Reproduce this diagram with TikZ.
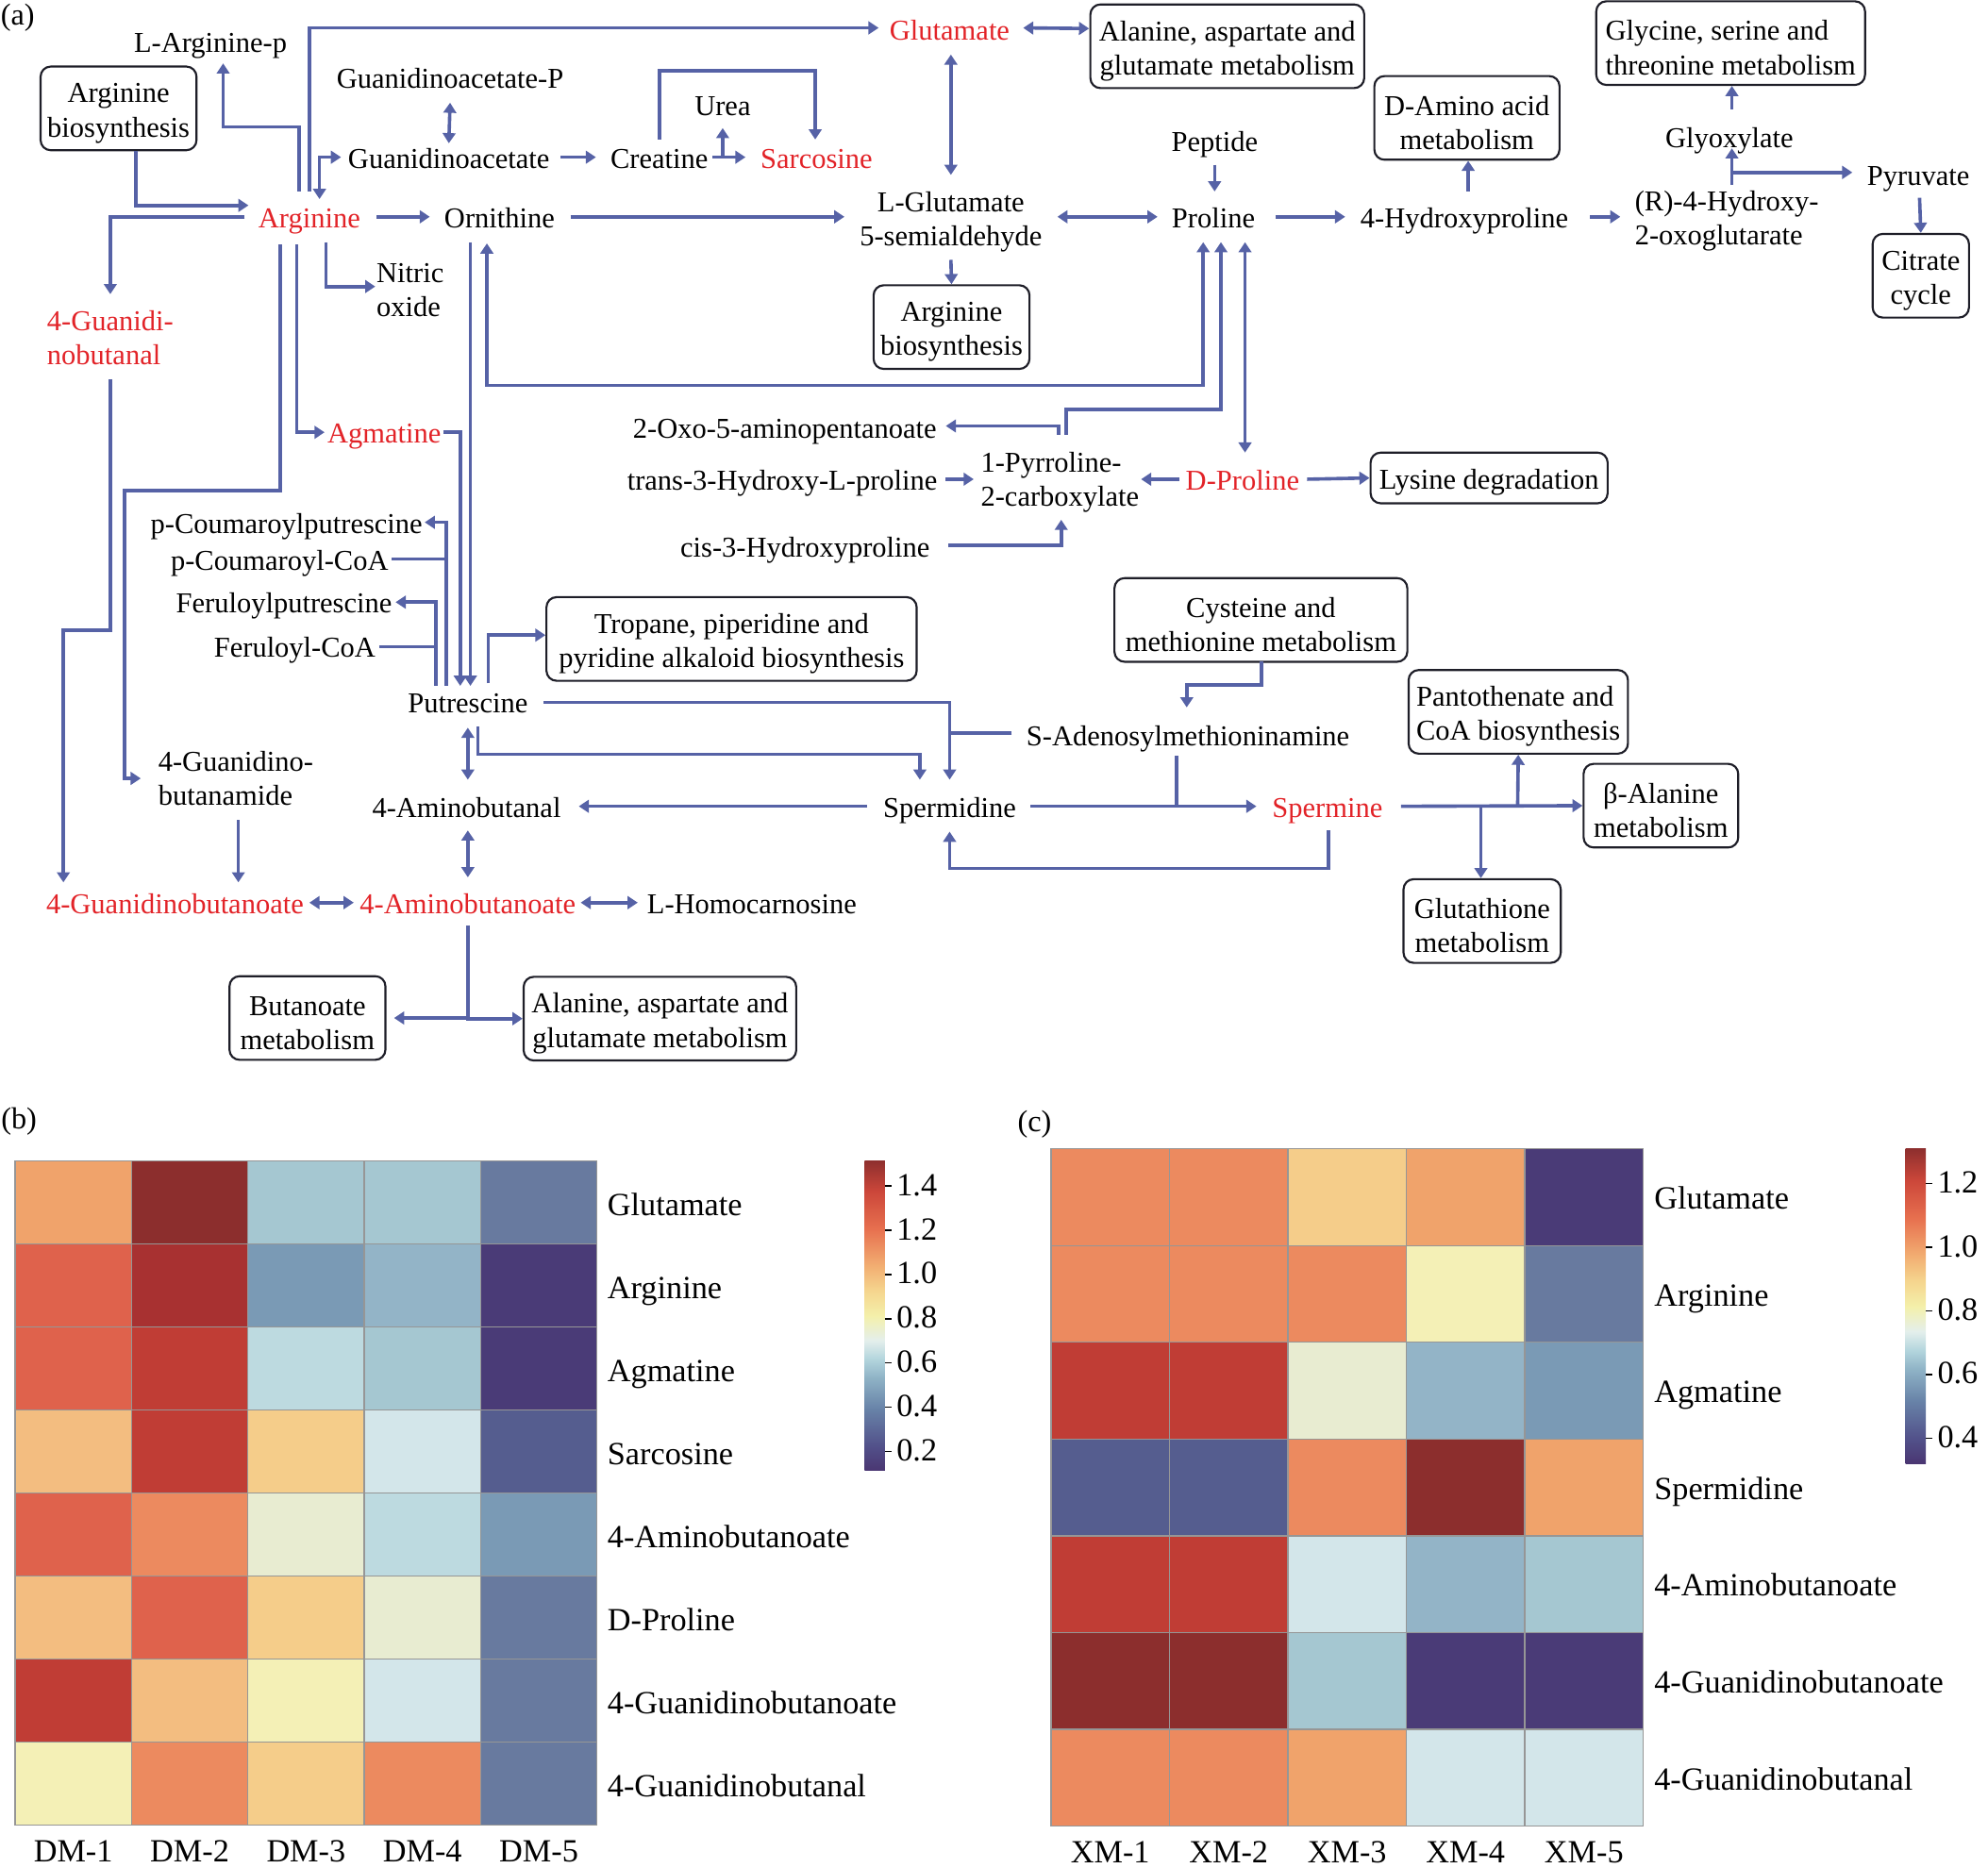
\documentclass[tikz,border=0pt]{standalone}
\usepackage{fontspec}
\setmainfont{Liberation Serif}
\usepackage{tikz}
\usetikzlibrary{arrows.meta, calc}

\definecolor{flow}{RGB}{86,98,166}
\definecolor{hitred}{RGB}{226,35,40}
\definecolor{boxline}{RGB}{30,30,40}
\definecolor{gridgray}{RGB}{150,150,150}
% heat map colours
\definecolor{hdred}{HTML}{8C2E2D}
\definecolor{hbrick}{HTML}{A83131}
\definecolor{hred}{HTML}{C03D35}
\definecolor{hredor}{HTML}{DF624C}
\definecolor{hor}{HTML}{EC8A5F}
\definecolor{hora}{HTML}{F0A36B}
\definecolor{hltor}{HTML}{F3BD80}
\definecolor{hpeach}{HTML}{F5CD8A}
\definecolor{hpyel}{HTML}{F4F0B6}
\definecolor{hpgrn}{HTML}{E8ECD1}
\definecolor{hpcyan}{HTML}{D3E6EA}
\definecolor{hlblue}{HTML}{BDDAE0}
\definecolor{hbla}{HTML}{A5C7D1}
\definecolor{hblb}{HTML}{93B4C7}
\definecolor{hblc}{HTML}{7A9AB5}
\definecolor{hsteel}{HTML}{687A9F}
\definecolor{hslate}{HTML}{555D8F}
\definecolor{hindigo}{HTML}{4A3B77}
% colour bar
\definecolor{cbA}{HTML}{4A3672}
\definecolor{cbB}{HTML}{52518A}
\definecolor{cbC}{HTML}{6883A8}
\definecolor{cbD}{HTML}{8FB3C6}
\definecolor{cbE}{HTML}{B3D5DD}
\definecolor{cbF}{HTML}{E4EFEC}
\definecolor{cbG}{HTML}{F4F0AA}
\definecolor{cbH}{HTML}{F5D58E}
\definecolor{cbI}{HTML}{F2AE72}
\definecolor{cbJ}{HTML}{E7704F}
\definecolor{cbK}{HTML}{CC473A}
\definecolor{cbL}{HTML}{8E2F2E}
\pgfdeclareverticalshading{heatbar}{100bp}{color(0bp)=(cbA); color(25bp)=(cbA); color(29bp)=(cbB); color(35bp)=(cbC); color(40bp)=(cbD); color(43bp)=(cbE); color(46bp)=(cbF); color(50bp)=(cbG); color(54bp)=(cbH); color(58bp)=(cbI); color(64bp)=(cbJ); color(70bp)=(cbK); color(75bp)=(cbL); color(100bp)=(cbL)}

\newcommand{\mainsize}{\fontsize{22.7}{27}\selectfont}
\newcommand{\heatsize}{\fontsize{25.5}{30}\selectfont}

\tikzstyle{met} = [inner sep=3pt, text height=19pt, text depth=2pt, font=\mainsize]
\tikzstyle{met2} = [inner sep=3pt, align=left, text height=49pt, font=\mainsize]
\tikzstyle{hit} = [met, text=hitred]
\tikzstyle{pw} = [rectangle, rounded corners=8pt, draw=boxline, line width=1.6pt,
minimum height=66pt,
inner sep=3pt,
align=center,
text height=50pt,
font=\mainsize]
\tikzstyle{arr} = [draw=flow, line width=2.7pt, -{Triangle[length=8pt,width=10pt]}]
\tikzstyle{darr} = [draw=flow, line width=2.7pt, {Triangle[length=8pt,width=10pt]}-{Triangle[length=8pt,width=10pt]}]
\tikzstyle{lin} = [draw=flow, line width=2.7pt]
\tikzstyle{cell} = [draw=gridgray, line width=1pt]
\tikzstyle{hml} = [inner sep=3pt, text height=17pt, text depth=6pt, font=\heatsize]
\tikzstyle{tick} = [draw=black, line width=1.2pt]

\begin{document}
\begin{tikzpicture}[x=1pt, y=-1pt]
\useasboundingbox (0,0) rectangle (1568,1473);

% (a) pathway
\node (pa) [font=\fontsize{24}{28}\selectfont, inner sep=1pt] at (14,14) {(a)};
\node (lap) [met] at (166,33) {L-Arginine-p};
\node (gap) [met] at (355,61) {Guanidinoacetate-P};
\node (gaa) [met] at (354,124) {Guanidinoacetate};
\node (cre) [met] at (520,124) {Creatine};
\node (urea) [met] at (570,83) {Urea};
\node (sar) [hit] at (644,124) {Sarcosine};
\node (glu) [hit] at (749,23) {Glutamate};
\node (ala1) [pw, minimum width=216pt] at (968,36.5) {Alanine, aspartate and\\glutamate metabolism};
\node (gly) [pw, minimum width=212pt, align=left] at (1365,34) {Glycine, serine and\\threonine metabolism};
\node (dam) [pw, minimum width=146pt] at (1157,93) {D-Amino acid\\metabolism};
\node (pep) [met] at (958,111) {Peptide};
\node (glyox) [met] at (1364,108) {Glyoxylate};
\node (pyr) [met] at (1513,138) {Pyruvate};
\node (argbio1) [pw, minimum width=123pt] at (93.5,85.5) {Arginine\\biosynthesis};
\node (arg) [hit] at (244,171) {Arginine};
\node (orn) [met] at (394,171) {Ornithine};
\node (lgs) [met2, align=center] at (750,172) {L-Glutamate\\5-semialdehyde};
\node (pro) [met] at (957,171) {Proline};
\node (hyp) [met] at (1155,171) {4-Hydroxyproline};
\node (hog) [met2] at (1362,171) {(R)-4-Hydroxy-\\2-oxoglutarate};
\node (tca) [pw, minimum width=76pt] at (1515,217.5) {Citrate\\cycle};
\node (no) [met2] at (323.5,225.5) {Nitric\\oxide};
\node (gbal) [met2, text=hitred] at (87,263.5) {4-Guanidi-\\nobutanal};
\node (argbio2) [pw, minimum width=123pt] at (750.5,258) {Arginine\\biosynthesis};
\node (agm) [hit] at (303,341) {Agmatine};
\node (oxo) [met] at (619,337) {2-Oxo-5-aminopentanoate};
\node (t3h) [met] at (617,378) {trans-3-Hydroxy-L-proline};
\node (p5c) [met2] at (836,377.5) {1-Pyrroline-\\2-carboxylate};
\node (dpro) [hit] at (980,378) {D-Proline};
\node (lys) [pw, minimum width=187pt, minimum height=40pt, text height=19pt, text depth=2pt] at (1174.5,377) {Lysine degradation};
\node (c3h) [met] at (635,431) {cis-3-Hydroxyproline};
\node (pcp) [met] at (226,412) {p-Coumaroylputrescine};
\node (pcoa) [met] at (220.5,441) {p-Coumaroyl-CoA};
\node (fp) [met] at (224,475) {Feruloylputrescine};
\node (fcoa) [met] at (232.5,510) {Feruloyl-CoA};
\node (trop) [pw, minimum width=292pt] at (577,504) {Tropane, piperidine and\\pyridine alkaloid biosynthesis};
\node (cys) [pw, minimum width=231pt] at (994.5,489) {Cysteine and\\methionine metabolism};
\node (pan) [pw, minimum width=173pt, align=left] at (1197.5,561.5) {Pantothenate and\\CoA biosynthesis};
\node (put) [met] at (369,554) {Putrescine};
\node (sam) [met] at (937,579.5) {S-Adenosylmethioninamine};
\node (gbam) [met2] at (186,611) {4-Guanidino-\\butanamide};
\node (abal) [met] at (368,636) {4-Aminobutanal};
\node (spd) [met] at (749,636) {Spermidine};
\node (spm) [hit] at (1047,636) {Spermine};
\node (bala) [pw, minimum width=122pt] at (1310,635.5) {β-Alanine\\metabolism};
\node (gsh) [pw, minimum width=124pt] at (1169,726.5) {Glutathione\\metabolism};
\node (gba) [hit] at (138,712) {4-Guanidinobutanoate};
\node (aba) [hit] at (369,712) {4-Aminobutanoate};
\node (hcar) [met] at (593,712) {L-Homocarnosine};
\node (but) [pw, minimum width=123pt] at (242.5,803) {Butanoate\\metabolism};
\node (ala2) [pw, minimum width=215pt] at (520.5,803.5) {Alanine, aspartate and\\glutamate metabolism};

% arginine and creatine
\draw[arr] ($(argbio1)+(13.5,33.5)$) |- ($(arg)+(-48,-9)$);
\draw[arr] ($(arg)+(-51,0)$) -| ($(gbal)+(0,-31.5)$);
\draw[arr] ($(arg)+(-8,-20)$) |- ($(lap)+(10,67)$) -- ($(lap)+(10,17)$);
\draw[arr] ($(arg)+(0,-20)$) |- ($(glu)+(-56,-1)$);
\draw[darr] ($(arg)+(8,-14)$) |- ($(gaa)+(-85,0)$);
\draw[darr] ($(gap)+(0,20)$) -- ($(gaa)+(0,-11)$);
\draw[arr] ($(gaa)+(88,0)$) -- ($(cre)+(-50,0)$);
\draw[arr] ($(cre)+(42,0)$) -- ($(sar)+(-56,0)$);
\draw[arr] ($(cre)+(50,0)$) -- ($(urea)+(0,18)$);
\draw[arr] ($(cre)+(0,-14)$) -- ++(0,-54) -| ($(sar)+(-1,-14)$);
\draw[arr] ($(arg)+(53,0)$) -- ($(orn)+(-55,0)$);
\draw[arr] ($(arg)+(13,20)$) |- ($(no)+(-27.5,0.5)$);

% glutamate and proline
\draw[darr] ($(glu)+(58,-1)$) -- ($(ala1)+(-109,-14)$);
\draw[darr] ($(glu)+(1,20)$) -- ($(lgs)+(0,-34)$);
\draw[arr] ($(orn)+(56,0)$) -- ($(lgs)+(-84,-1)$);
\draw[darr] ($(lgs)+(84,-1)$) -- ($(pro)+(-44,0)$);
\draw[arr] ($(lgs)+(0,33)$) -- (argbio2.north);
\draw[arr] ($(pep)+(0,19)$) -- ($(pro)+(1,-20)$);
\draw[arr] ($(pro)+(49,0)$) -- ($(hyp)+(-94,0)$);
\draw[arr] ($(hyp)+(3,-20)$) -- ($(dam.south)+(1,0)$);
\draw[arr] ($(hyp)+(99,0)$) -- ($(hog)+(-84,0)$);
\draw[arr] ($(hog)+(4,-25)$) -- ($(glyox)+(2,9)$);
\draw[arr] ($(hog)+(4,-35)$) -- ($(pyr)+(-52,-2)$);
\draw[arr] ($(glyox)+(2,-22)$) -- ($(gly.south)+(1,0)$);
\draw[arr] ($(pyr)+(1,18)$) -- (tca.north);
\draw[darr] ($(orn)+(-10,21)$) |- ($(pro)+(-8,133)$) -- ($(pro)+(-8,20)$);
\draw[arr] ($(p5c)+(5,-34.5)$) |- ($(pro)+(6,152)$) -- ($(pro)+(6,20)$);
\draw[arr] ($(p5c)+(-1,-34.5)$) |- ($(oxo)+(127,-1)$);
\draw[darr] ($(pro)+(25,20)$) -- ($(dpro)+(2,-21)$);
\draw[arr] ($(t3h)+(129,0)$) -- ($(p5c)+(-68,0.5)$);
\draw[arr] ($(dpro)+(-50,0)$) -- ($(p5c)+(64,0.5)$);
\draw[arr] ($(dpro)+(51,0)$) -- (lys.west);
\draw[arr] ($(c3h)+(113,-1)$) -| ($(p5c)+(1,32.5)$);

% putrescine
\draw[arr] ($(orn)+(-23,20)$) -- ($(put)+(2,-13)$);
\draw[arr] ($(arg)+(-10,22)$) |- ($(agm)+(-47,0)$);
\draw[arr] ($(arg)+(-23,22)$) |- ($(gbam)+(-88,-224)$) |- ($(gbam)+(-75,3)$);
\draw[arr] ($(gbal)+(0,35.5)$) |- ($(gba)+(-88,-215)$) -- ($(gba)+(-88,-16)$);
\draw[arr] ($(gbam)+(2,36)$) -- ($(gba)+(50,-16)$);
\draw[arr] ($(agm)+(47,0)$) -| ($(put)+(-6,-13)$);
\draw[arr] ($(put)+(-17,-13)$) |- ($(pcp)+(109,0)$);
\draw[lin] ($(pcoa)+(88.5,0)$) -- ($(put)+(-17,-113)$);
\draw[arr] ($(put)+(-25,-13)$) |- ($(fp)+(88,0)$);
\draw[lin] ($(fcoa)+(66.5,0)$) -- ($(put)+(-25,-44)$);
\draw[arr] ($(put)+(16,-15)$) |- ($(trop.west)+(0,-3)$);
\draw[arr] ($(put)+(60,0)$) -| ($(spd)+(0,-21)$);
\draw[lin] ($(sam)+(-139,-1.5)$) -- ($(spd)+(0,-58)$);
\draw[arr] ($(put)+(8,19)$) |- ($(spd)+(-23.5,-41)$) -- ($(spd)+(-23.5,-21)$);
\draw[darr] ($(put)+(0,20)$) -- ($(abal)+(1,-21)$);
\draw[arr] ($(cys)+(0.5,33)$) -- ++(0,18.5) -| ($(sam)+(-1,-21.5)$);

% spermidine and spermine
\draw[arr] ($(spd)+(-65,0)$) -- ($(abal)+(88.5,0)$);
\draw[arr] ($(spd)+(64,0)$) -- ($(spm)+(-56,0)$);
\draw[lin] ($(sam)+(-9,16.5)$) -- ($(spd)+(179,0)$);
\draw[arr] ($(spm)+(1,19)$) -- ++(0,30) -| ($(spd)+(0,20)$);
\draw[arr] ($(spm)+(58,0)$) -- (bala.west);
\draw[arr] ($(spm)+(150,0)$) -- (pan.south);
\draw[arr] ($(spm)+(121,0)$) -- ($(gsh.north)+(-1,0)$);

% aminobutanoate
\draw[darr] ($(abal)+(1,19)$) -- ($(aba)+(0,-20)$);
\draw[darr] ($(gba)+(106,0)$) -- ($(aba)+(-90,0)$);
\draw[darr] ($(aba)+(89,0)$) -- ($(hcar)+(-90,0)$);
\draw[arr] ($(aba)+(0,18)$) |- ($(but.east)+(6,0)$);
\draw[arr] ($(aba)+(0,18)$) |- (ala2.west);

% (b) heat map
\node (pb) [font=\fontsize{24}{28}\selectfont, inner sep=1pt] at (15,885) {(b)};
\foreach \row [count=\r from 0] in {{hora,hdred,hbla,hbla,hsteel},{hredor,hbrick,hblc,hblb,hindigo},{hredor,hred,hlblue,hbla,hindigo},{hltor,hred,hpeach,hpcyan,hslate},{hredor,hor,hpgrn,hlblue,hblc},{hltor,hredor,hpeach,hpgrn,hsteel},{hred,hltor,hpyel,hpcyan,hsteel},{hpyel,hor,hpeach,hor,hsteel}}
  \foreach \c [count=\k from 0] in \row
    \filldraw[cell, fill=\c] (11.9+91.8*\k, 915.8+65.5*\r) rectangle ++(91.8,65.5);
\foreach \t [count=\r from 0] in {Glutamate,Arginine,Agmatine,Sarcosine,4-Aminobutanoate,D-Proline,4-Guanidinobutanoate,4-Guanidinobutanal}
  \node (rb\r) [hml, anchor=west] at (476,953.5+65.5*\r) {\t};
\foreach \k in {1,...,5}
  \node (cb\k) [hml] at (-34+91.8*\k,1463) {DM-\k};
\shade[shading=heatbar] (682,915.5) rectangle (698,1160);
\foreach \v [count=\i from 0] in {1.4,1.2,1.0,0.8,0.6,0.4,0.2} {
  \draw[tick] (698,935.5+34.9*\i) -- ++(5,0);
  \node (tb\i) [hml, anchor=west] at (704,937.5+34.9*\i) {\v};
}

% (c) heat map
\node (pc) [font=\fontsize{24}{28}\selectfont, inner sep=1pt] at (816,887) {(c)};
\foreach \row [count=\r from 0] in {{hor,hor,hpeach,hora,hindigo},{hor,hor,hor,hpyel,hsteel},{hred,hred,hpgrn,hblb,hblc},{hslate,hslate,hor,hdred,hora},{hred,hred,hpcyan,hblb,hbla},{hdred,hdred,hbla,hindigo,hindigo},{hor,hor,hora,hpcyan,hpcyan}}
  \foreach \c [count=\k from 0] in \row
    \filldraw[cell, fill=\c] (829+93.4*\k, 906.2+76.3*\r) rectangle ++(93.4,76.3);
\foreach \t [count=\r from 0] in {Glutamate,Arginine,Agmatine,Spermidine,4-Aminobutanoate,4-Guanidinobutanoate,4-Guanidinobutanal}
  \node (rc\r) [hml, anchor=west] at (1301.6,948.4+76.3*\r) {\t};
\foreach \k in {1,...,5}
  \node (cc\k) [hml] at (782.3+93.4*\k,1464) {XM-\k};
\shade[shading=heatbar] (1503,906.4) rectangle (1519,1154.5);
\foreach \v [count=\i from 0] in {1.2,1.0,0.8,0.6,0.4} {
  \draw[tick] (1519,933.6+50.2*\i) -- ++(5,0);
  \node (tc\i) [hml, anchor=west] at (1525,935.6+50.2*\i) {\v};
}

\end{tikzpicture}
\end{document}
